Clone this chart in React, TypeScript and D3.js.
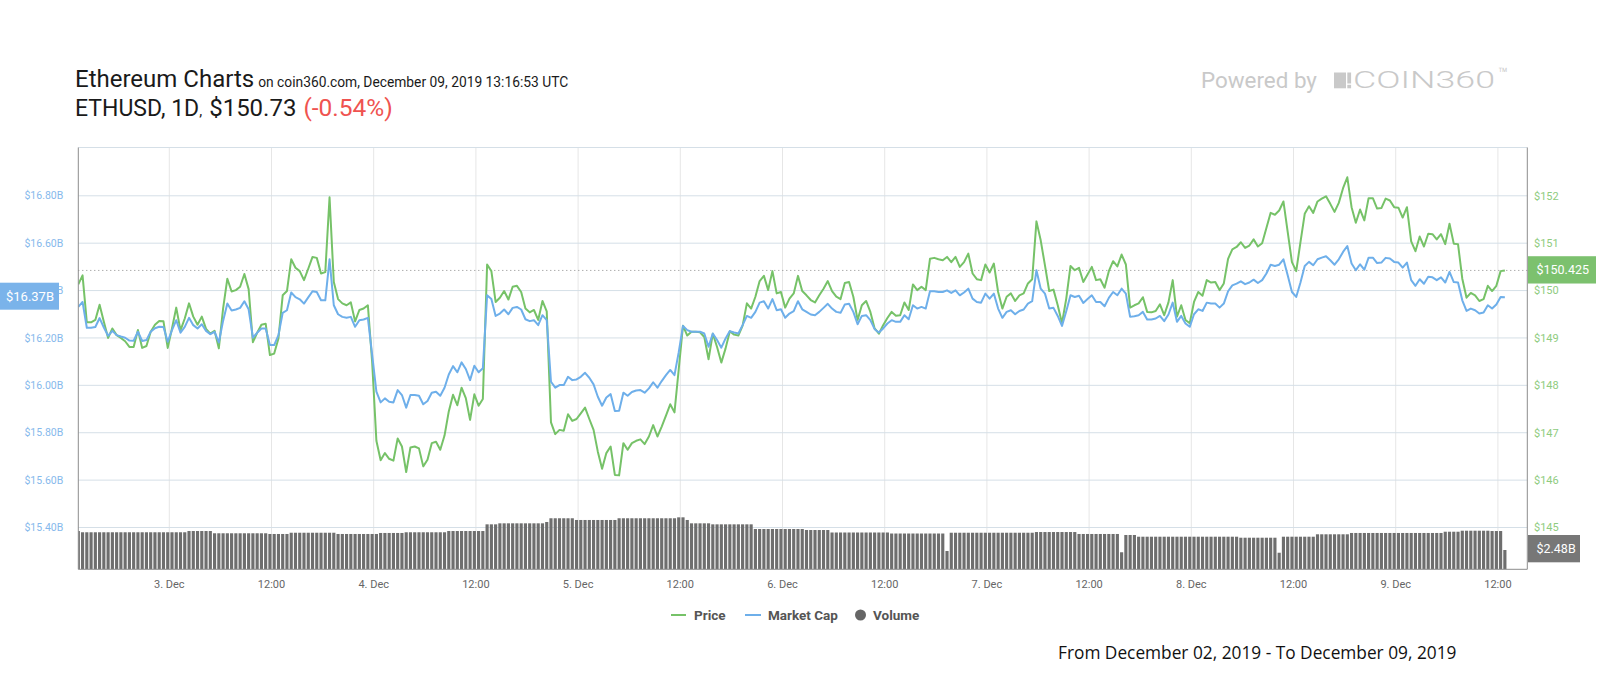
import React from 'react';
import * as d3 from 'd3';

// ETH price (USD), half-hourly from Dec 2 2019 13:19 UTC
const PRICE: number[] = [
  150.13, 150.32, 149.33, 149.33, 149.38, 149.70, 149.34, 149.00, 149.20, 149.06,
  149.00, 148.93, 148.81, 148.81, 149.17, 148.79, 148.83, 149.13, 149.28, 149.36,
  149.35, 148.79, 149.20, 149.64, 149.16, 149.41, 149.73, 149.45, 149.28, 149.45,
  149.19, 149.09, 149.15, 148.78, 149.62, 150.25, 149.98, 150.01, 150.08, 150.35,
  150.03, 148.91, 149.11, 149.28, 149.30, 148.64, 148.67, 148.99, 149.90, 149.99,
  150.66, 150.48, 150.41, 150.22, 150.46, 150.71, 150.69, 150.36,
  150.39, 151.97, 150.18, 149.82, 149.73, 149.69, 149.75, 149.35, 149.59, 149.62,
  149.69, 148.50, 146.83, 146.42, 146.57, 146.45, 146.41, 146.88, 146.71, 146.17,
  146.69, 146.71, 146.67, 146.29, 146.43, 146.78, 146.81, 146.64, 146.94, 147.45,
  147.80, 147.58, 147.95, 147.73, 147.27, 147.81, 147.57, 147.71, 150.55, 150.41,
  149.76, 149.85, 149.99, 149.81, 150.08, 150.10, 149.97, 149.62, 149.54, 149.59,
  149.38, 149.78, 149.56, 147.22, 146.97, 147.06,
  147.04, 147.39, 147.25, 147.29, 147.41, 147.53, 147.29, 147.06, 146.60, 146.24,
  146.57, 146.71, 146.11, 146.10, 146.78, 146.64, 146.78, 146.83, 146.86, 146.76,
  146.92, 147.16, 146.92, 147.13, 147.36, 147.60, 147.43, 148.34, 149.26, 149.05,
  149.13, 149.13, 149.12, 149.02, 148.55, 149.09, 148.81, 148.48, 148.78, 149.14,
  149.07, 149.05, 149.26, 149.73, 149.62, 149.87, 150.20, 150.31, 150.01, 150.41,
  149.94, 149.97, 149.64, 149.83, 149.94, 150.31, 149.99,
  149.90, 149.80, 149.75, 149.90, 150.04, 150.20, 149.99, 149.87, 149.82, 150.16,
  150.18, 149.87, 149.38, 149.69, 149.78, 149.55, 149.20, 149.09, 149.27, 149.42,
  149.55, 149.47, 149.48, 149.75, 149.59, 150.13, 150.01, 150.08, 150.01, 150.67,
  150.69, 150.66, 150.64, 150.71, 150.60, 150.71, 150.50, 150.60, 150.78, 150.36,
  150.24, 150.22, 150.55, 150.38, 150.57, 149.97, 149.62, 149.87, 149.94, 149.78,
  149.90, 149.94, 150.15, 150.24, 151.46, 151.06,
  150.53, 149.99, 150.02, 149.69, 149.31, 149.83, 150.52, 150.43, 150.48, 150.18,
  150.34, 150.50, 150.22, 150.24, 150.06, 150.41, 150.62, 150.51, 150.76, 150.55,
  149.64, 149.69, 149.73, 149.86, 149.55, 149.54, 149.57, 149.71, 149.48, 149.75,
  150.22, 149.45, 149.69, 149.38, 149.31, 149.76, 149.97, 149.89, 150.22, 150.17,
  150.18, 150.01, 150.15, 150.67, 150.87, 150.92, 151.02, 150.90, 150.95, 151.08,
  150.93, 151.00, 151.32, 151.64, 151.60, 151.69, 151.88,
  151.24, 150.60, 150.41, 151.02, 151.62, 151.78, 151.64, 151.88, 151.94, 151.99,
  151.83, 151.66, 151.85, 152.16, 152.39, 151.76, 151.43, 151.71, 151.48, 151.95,
  151.95, 151.73, 151.74, 151.94, 151.90, 151.76, 151.75, 151.54, 151.76, 151.04,
  150.83, 151.14, 150.93, 151.20, 151.19, 151.08, 151.19, 150.98, 151.41, 150.99,
  150.98, 150.25, 149.85, 149.95, 149.90, 149.78, 149.82, 150.10, 149.99, 150.10,
  150.41, 150.425,
];

// Market cap (billions USD), same timestamps
const MCAP: number[] = [
  16.331, 16.352, 16.243, 16.243, 16.246, 16.284, 16.244, 16.209, 16.230, 16.212,
  16.206, 16.201, 16.189, 16.188, 16.226, 16.187, 16.191, 16.226, 16.241, 16.247,
  16.246, 16.184, 16.233, 16.275, 16.222, 16.247, 16.285, 16.254, 16.240, 16.258,
  16.230, 16.216, 16.226, 16.181, 16.272, 16.345, 16.316, 16.320, 16.327, 16.355,
  16.321, 16.201, 16.222, 16.240, 16.240, 16.170, 16.170, 16.212, 16.306, 16.317,
  16.392, 16.372, 16.363, 16.345, 16.371, 16.397, 16.394, 16.359,
  16.359, 16.532, 16.338, 16.300, 16.289, 16.285, 16.289, 16.247, 16.275, 16.278,
  16.285, 16.130, 15.973, 15.928, 15.945, 15.931, 15.928, 15.980, 15.959, 15.906,
  15.959, 15.959, 15.956, 15.920, 15.934, 15.969, 15.973, 15.956, 15.990, 16.046,
  16.081, 16.055, 16.097, 16.069, 16.022, 16.083, 16.055, 16.072, 16.380, 16.364,
  16.293, 16.303, 16.320, 16.300, 16.327, 16.331, 16.320, 16.279, 16.271, 16.275,
  16.254, 16.296, 16.275, 16.015, 15.990, 16.001,
  16.001, 16.036, 16.022, 16.025, 16.036, 16.053, 16.032, 16.004, 15.952, 15.914,
  15.949, 15.963, 15.892, 15.893, 15.969, 15.956, 15.972, 15.978, 15.980, 15.969,
  15.987, 16.013, 15.990, 16.018, 16.043, 16.065, 16.043, 16.140, 16.251, 16.233,
  16.226, 16.226, 16.226, 16.219, 16.163, 16.219, 16.191, 16.159, 16.198, 16.229,
  16.223, 16.219, 16.254, 16.293, 16.285, 16.310, 16.349, 16.355, 16.324, 16.364,
  16.317, 16.321, 16.285, 16.303, 16.313, 16.355, 16.321,
  16.310, 16.299, 16.296, 16.310, 16.327, 16.344, 16.324, 16.310, 16.306, 16.341,
  16.344, 16.310, 16.258, 16.293, 16.296, 16.275, 16.237, 16.223, 16.240, 16.261,
  16.275, 16.268, 16.268, 16.296, 16.279, 16.338, 16.324, 16.331, 16.324, 16.397,
  16.397, 16.394, 16.394, 16.401, 16.390, 16.401, 16.380, 16.392, 16.408, 16.366,
  16.352, 16.349, 16.387, 16.366, 16.387, 16.324, 16.285, 16.310, 16.317, 16.300,
  16.314, 16.320, 16.345, 16.355, 16.486, 16.408,
  16.387, 16.324, 16.327, 16.293, 16.251, 16.313, 16.380, 16.373, 16.378, 16.348,
  16.364, 16.380, 16.352, 16.352, 16.334, 16.369, 16.394, 16.380, 16.408, 16.387,
  16.289, 16.292, 16.296, 16.310, 16.278, 16.278, 16.282, 16.293, 16.271, 16.299,
  16.349, 16.268, 16.293, 16.261, 16.247, 16.300, 16.321, 16.314, 16.349, 16.345,
  16.345, 16.328, 16.345, 16.397, 16.422, 16.429, 16.439, 16.427, 16.434, 16.446,
  16.432, 16.444, 16.472, 16.509, 16.504, 16.509, 16.532,
  16.465, 16.394, 16.373, 16.434, 16.504, 16.521, 16.507, 16.532, 16.539, 16.545,
  16.528, 16.509, 16.532, 16.563, 16.588, 16.514, 16.486, 16.511, 16.488, 16.539,
  16.539, 16.516, 16.518, 16.538, 16.535, 16.521, 16.518, 16.497, 16.518, 16.444,
  16.420, 16.448, 16.429, 16.458, 16.456, 16.444, 16.456, 16.434, 16.479, 16.436,
  16.434, 16.359, 16.314, 16.324, 16.317, 16.303, 16.307, 16.338, 16.324, 16.341,
  16.373, 16.372,
];

// 24h volume (billions USD), same timestamps
const VOLUME: number[] = [
  4.92,
  4.76, 4.76, 4.76, 4.76, 4.76, 4.76, 4.76, 4.76, 4.76, 4.76,
  4.76, 4.76, 4.76, 4.76, 4.76, 4.76, 4.76, 4.76, 4.76, 4.76,
  4.76, 4.76, 4.76, 4.76, 4.76,
  4.92, 4.92, 4.92, 4.92, 4.92, 4.92,
  4.63, 4.63, 4.63, 4.63, 4.63, 4.63, 4.63, 4.63, 4.63, 4.63, 4.63, 4.63, 4.63,
  4.54, 4.54, 4.54, 4.54, 4.54,
  4.70, 4.70, 4.70, 4.70, 4.70, 4.70, 4.70, 4.70, 4.70, 4.70, 4.70,
  4.54, 4.54, 4.54, 4.54, 4.54, 4.54, 4.54, 4.54, 4.54, 4.54,
  4.67, 4.67, 4.67, 4.67, 4.67, 4.67,
  4.76, 4.76, 4.76, 4.76, 4.76, 4.76, 4.76, 4.76, 4.76, 4.76,
  4.92, 4.92, 4.92, 4.92, 4.92, 4.92, 4.92, 4.92, 4.92,
  5.78, 5.78, 5.78,
  5.91, 5.91, 5.91, 5.91, 5.91, 5.91, 5.91, 5.91, 5.91, 5.91, 5.91,
  6.08,
  6.56, 6.56, 6.56, 6.56, 6.56, 6.56,
  6.34, 6.34, 6.34, 6.34, 6.34, 6.34, 6.34, 6.34, 6.34, 6.34,
  6.56, 6.56, 6.56, 6.56, 6.56, 6.56, 6.56, 6.56, 6.56, 6.56, 6.56, 6.56, 6.56, 6.56,
  6.68, 6.68,
  6.34,
  5.91, 5.91, 5.91, 5.91, 5.91,
  5.78, 5.78, 5.78, 5.78, 5.78, 5.78, 5.78, 5.78, 5.78, 5.78,
  5.18, 5.18, 5.18, 5.18, 5.18, 5.18, 5.18, 5.18, 5.18, 5.18, 5.18, 5.18,
  5.05, 5.05, 5.05, 5.05, 5.05, 5.05,
  4.73, 4.73, 4.73, 4.73, 4.73, 4.73, 4.73, 4.73, 4.73, 4.73, 4.73, 4.73, 4.73, 4.73,
  4.60, 4.60, 4.60, 4.60, 4.60, 4.60, 4.60, 4.60, 4.60, 4.60, 4.60, 4.60, 4.60,
  2.35,
  4.70, 4.70, 4.70, 4.70, 4.70, 4.70, 4.70, 4.70, 4.70, 4.70,
  4.70, 4.70, 4.70, 4.70, 4.70, 4.70, 4.70, 4.70, 4.70, 4.70,
  4.79, 4.79, 4.79, 4.79, 4.79, 4.79, 4.79, 4.79, 4.79, 4.79,
  4.54, 4.54, 4.54, 4.54, 4.54, 4.54, 4.54, 4.54, 4.54, 4.54,
  2.19,
  4.41, 4.41, 4.41,
  4.19, 4.19, 4.19, 4.19, 4.19, 4.19, 4.19, 4.19, 4.19, 4.19, 4.19, 4.19,
  4.19, 4.19, 4.19, 4.19, 4.19, 4.19, 4.19, 4.19, 4.19, 4.19, 4.19, 4.19,
  4.06, 4.06, 4.06, 4.06, 4.06, 4.06, 4.06, 4.06, 4.06,
  2.13,
  4.19, 4.19, 4.19, 4.19, 4.19, 4.19, 4.19, 4.19,
  4.50, 4.50, 4.50, 4.50, 4.50, 4.50, 4.50, 4.50,
  4.67, 4.67, 4.67, 4.67, 4.67, 4.67, 4.67, 4.67, 4.67, 4.67, 4.67,
  4.67, 4.67, 4.67, 4.67, 4.67, 4.67, 4.67, 4.67, 4.67, 4.67, 4.67,
  4.83, 4.83, 4.83, 4.83,
  4.96, 4.96, 4.96, 4.96, 4.96, 4.96, 4.96,
  4.92, 4.92, 4.92,
  2.48,
];

const PRICE_TICKS = [145, 146, 147, 148, 149, 150, 151, 152];
const MCAP_TICKS = [15.4, 15.6, 15.8, 16.0, 16.2, 16.4, 16.6, 16.8];
const START_MS = Date.UTC(2019, 11, 2, 13, 19);
const STEP_MS = 30 * 60 * 1000;
const DOMAIN_END_MS = Date.UTC(2019, 11, 9, 15, 27);
const PRICE_TAG = '$150.425';
const MCAP_TAG = '$16.37B';
const VOLUME_TAG = '$2.48B';

const GREEN = '#76c268';
const BLUE = '#6eafea';
const FONT = 'Roboto, "Open Sans", sans-serif';

export default function App() {
  const W = 1600, H = 700;
  const L = 78.3, R = 1527.3, T = 147.5, B = 569.3;

  const x = d3.scaleUtc().domain([new Date(START_MS), new Date(DOMAIN_END_MS)]).range([L, R]);
  const yP = d3.scaleLinear().domain([145, 153]).range([527.5, 148.4]);
  const yM = d3.scaleLinear().domain([15.4, 17.0]).range([527.5, 148.4]);
  const yV = d3.scaleLinear().domain([0, 10]).range([B, B - 77.8]);

  const t = (i: number) => new Date(START_MS + i * STEP_MS);

  const priceLine = d3.line<number>().x((_, i) => x(t(i))).y((d) => yP(d));
  const mcapLine = d3.line<number>().x((_, i) => x(t(i))).y((d) => yM(d));

  const xTicks = d3.utcHour.every(12)!.range(new Date(Date.UTC(2019, 11, 3)), new Date(DOMAIN_END_MS));
  const fmt = (d: Date) => (d.getUTCHours() === 0 ? `${d.getUTCDate()}. Dec` : '12:00');

  const step = x(t(1)) - x(t(0));
  const barW = step - 1.1;

  const lastP = PRICE[PRICE.length - 1];
  const lastM = MCAP[MCAP.length - 1];
  const lastV = VOLUME[VOLUME.length - 1];

  return (
    <svg width={W} height={H} style={{ position: 'absolute', left: 0, top: 0, background: '#fff' }}
      xmlns="http://www.w3.org/2000/svg">
      <defs>
        <clipPath id="plot">
          <rect x={L} y={T} width={R - L} height={B - T} />
        </clipPath>
      </defs>
      <rect x={0} y={0} width={W} height={H} fill="#fff" />

      {/* Header */}
      <text x={75} y={86.7} fontFamily={FONT} fill="#1a1a1a">
        <tspan fontSize={24}>Ethereum Charts</tspan>
        <tspan fontSize={13.8} dx={4}>on coin360.com, December 09, 2019 13:16:53 UTC</tspan>
      </text>
      <text x={75} y={116} fontFamily={FONT} fill="#1a1a1a" fontSize={23}>
        <tspan>ETHUSD, 1D</tspan>
        <tspan fontSize={15}>,</tspan>
        <tspan dx={7} fontSize={24}>$150.73</tspan>
        <tspan dx={7} fontSize={24.5} fill="#ef5350">(-0.54%)</tspan>
      </text>

      {/* Powered by COIN360 */}
      <text x={1201} y={88} fontFamily={FONT} fontSize={22.4} fill="#c9c9c9">Powered by</text>
      <rect x={1334} y={72.5} width={12} height={15.8} fill="#c9c9c9" />
      <rect x={1347.3} y={72.5} width={3.8} height={11} fill="#c9c9c9" />
      <rect x={1347.3} y={84.8} width={3.8} height={3.5} fill="#c9c9c9" />
      <text x={1353} y={88} fontFamily={FONT} fontWeight={300} fontSize={23} fill="#c9c9c9"
        textLength={142} lengthAdjust="spacingAndGlyphs">COIN360</text>
      <text x={1498} y={79} fontFamily={FONT} fontWeight={300} fontSize={16} fill="#c9c9c9">™</text>

      {/* Grid */}
      {xTicks.map((d, i) => (
        <line key={'vg' + i} x1={x(d)} x2={x(d)} y1={T} y2={B} stroke="#e6e6e6" strokeWidth={1} />
      ))}
      {PRICE_TICKS.map((p) => (
        <line key={'hg' + p} x1={L} x2={R} y1={yP(p)} y2={yP(p)} stroke="#d5dfe7" strokeWidth={1} />
      ))}
      <line x1={L} x2={R} y1={T} y2={T} stroke="#d5dfe7" strokeWidth={1} />

      {/* Volume */}
      <g clipPath="url(#plot)">
        {VOLUME.map((v, i) => (
          <rect key={'v' + i} x={x(t(i)) - barW / 2} y={yV(v)} width={barW} height={B - yV(v)} fill="#6e6e6e" />
        ))}
      </g>

      {/* Last price dotted line */}
      <line x1={L} x2={R} y1={yP(lastP)} y2={yP(lastP)} stroke="#8a8a8a" strokeWidth={1} strokeDasharray="1,3" />

      {/* Lines */}
      <g clipPath="url(#plot)">
        <path d={priceLine(PRICE) || ''} fill="none" stroke={GREEN} strokeWidth={2} strokeLinejoin="round" />
        <path d={mcapLine(MCAP) || ''} fill="none" stroke={BLUE} strokeWidth={2} strokeLinejoin="round" />
      </g>

      {/* Axes frame */}
      <line x1={L} x2={L} y1={T} y2={B} stroke="#8c8c8c" strokeWidth={1} />
      <line x1={R} x2={R} y1={T} y2={B} stroke="#8c8c8c" strokeWidth={1} />
      <line x1={L} x2={R} y1={B} y2={B} stroke="#8c8c8c" strokeWidth={1} />

      {/* Left axis labels */}
      {MCAP_TICKS.map((m) => (
        <text key={'ml' + m} x={63.3} y={yM(m)} dy="0.35em" textAnchor="end" fontFamily={FONT}
          fontSize={10.5} fill="#86b9ec">{'$' + m.toFixed(2) + 'B'}</text>
      ))}
      {/* Right axis labels */}
      {PRICE_TICKS.map((p) => (
        <text key={'pl' + p} x={1534} y={yP(p)} dy="0.35em" fontFamily={FONT}
          fontSize={11} fill="#8fcc80">{'$' + p}</text>
      ))}

      {/* X axis labels */}
      {xTicks.map((d, i) => (
        <text key={'xl' + i} x={x(d)} y={588} textAnchor="middle" fontFamily={FONT} fontSize={11} fill="#666">
          {fmt(d)}
        </text>
      ))}

      {/* Tags */}
      <rect x={0} y={yM(lastM) - 14.5} width={59} height={27} fill="#7ab3ea" />
      <text x={30} y={yM(lastM) - 1} dy="0.35em" textAnchor="middle" fontFamily={FONT} fontSize={13} fill="#fff">{MCAP_TAG}</text>

      <rect x={R + 0.7} y={yP(lastP) - 14.2} width={68} height={27.3} fill="#7cc16e" />
      <text x={1536.5} y={yP(lastP) - 0.5} dy="0.35em" fontFamily={FONT} fontSize={12.5} fill="#fff">{PRICE_TAG}</text>

      <rect x={R + 0.7} y={yV(lastV) - 15} width={52} height={27.3} fill="#777" />
      <text x={1536.5} y={yV(lastV) - 1.3} dy="0.35em" fontFamily={FONT} fontSize={12.5} fill="#fff">{VOLUME_TAG}</text>

      {/* Legend */}
      <g fontFamily={FONT} fontSize={13.5} fontWeight={700} fill="#555">
        <line x1={671} x2={686} y1={615} y2={615} stroke={GREEN} strokeWidth={2} />
        <text x={694} y={619.8}>Price</text>
        <line x1={745} x2={761} y1={615} y2={615} stroke={BLUE} strokeWidth={2} />
        <text x={768} y={619.8}>Market Cap</text>
        <circle cx={860.5} cy={615} r={5.5} fill="#666" />
        <text x={873} y={619.8}>Volume</text>
      </g>

      {/* Footer */}
      <text x={1058} y={658.5} fontFamily='"Open Sans", "DejaVu Sans", sans-serif' fontSize={17.3} fill="#111">
        From December 02, 2019 - To December 09, 2019
      </text>
    </svg>
  );
}
